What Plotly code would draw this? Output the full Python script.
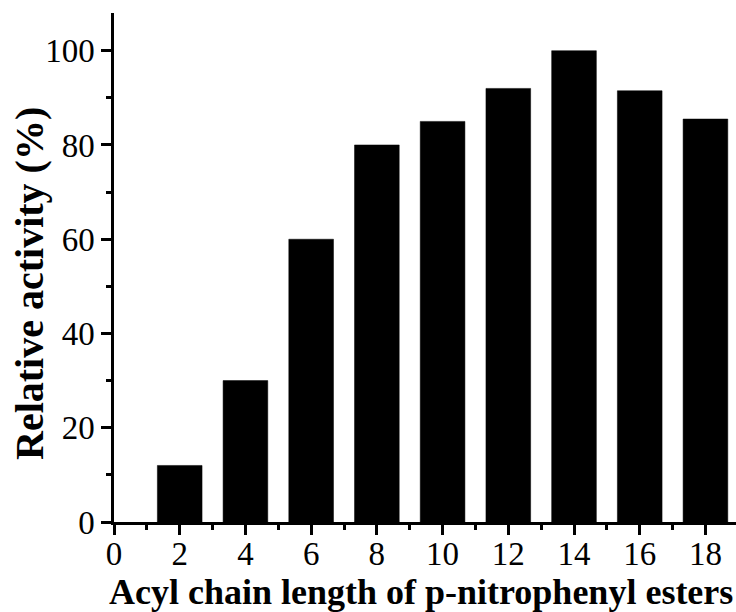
import plotly.graph_objects as go

chain_length = [2, 4, 6, 8, 10, 12, 14, 16, 18]
relative_activity = [12, 30, 60, 80, 85, 92, 100, 91.5, 85.5]
x_tick_vals = [0, 2, 4, 6, 8, 10, 12, 14, 16, 18]
y_tick_vals = [0, 20, 40, 60, 80, 100]
x_title = "<b>Acyl chain length of p-nitrophenyl esters</b>"
y_title = "<b>Relative activity (%)</b>"

fig = go.Figure(go.Bar(
    x=chain_length, y=relative_activity, width=1.36,
    marker=dict(color="black", line=dict(color="black", width=0.5)),
))

font_fam = "Liberation Serif, Times New Roman, serif"
L, R, T, B = 114, 0, 13, 90
W, H = 736, 612
pw, ph = W - L - R, H - T - B

fig.update_layout(
    width=W, height=H,
    margin=dict(l=L, r=R, t=T, b=B),
    plot_bgcolor="white", paper_bgcolor="white",
    showlegend=False,
    font=dict(family=font_fam, color="black", size=32),
)
fig.update_xaxes(
    range=[0, 18.93], tickvals=x_tick_vals, ticktext=[str(v) for v in x_tick_vals],
    showline=True, linecolor="black", linewidth=2.5,
    ticks="outside", ticklen=10, tickwidth=2.5, tickcolor="black",
    minor=dict(dtick=1, tick0=0, ticks="outside", ticklen=5, tickwidth=2.5, tickcolor="black"),
    showgrid=False, zeroline=False,
    tickfont=dict(size=33, family=font_fam),
    ticklabelstandoff=-9,
    automargin=False,
)
fig.update_yaxes(
    range=[0, 108], tickvals=y_tick_vals, ticktext=[str(v) for v in y_tick_vals],
    showline=True, linecolor="black", linewidth=2.5,
    ticks="outside", ticklen=10, tickwidth=2.5, tickcolor="black",
    minor=dict(dtick=10, tick0=0, ticks="outside", ticklen=5, tickwidth=2.5, tickcolor="black"),
    showgrid=False, zeroline=False,
    tickfont=dict(size=33, family=font_fam),
    automargin=False,
)
# axis titles placed as annotations (pixel positions converted to paper coords)
fig.add_annotation(
    text=x_title, xref="paper", yref="paper",
    x=(420.5 - L) / pw, y=(H - B - 592) / ph,
    xanchor="center", yanchor="middle", showarrow=False,
    font=dict(size=36, family=font_fam, color="black"),
)
fig.add_annotation(
    text=y_title, xref="paper", yref="paper",
    x=(30 - L) / pw, y=(H - B - 284) / ph,
    xanchor="center", yanchor="middle", showarrow=False, textangle=-90,
    font=dict(size=40, family=font_fam, color="black"),
)
fig.write_html("out.html")
